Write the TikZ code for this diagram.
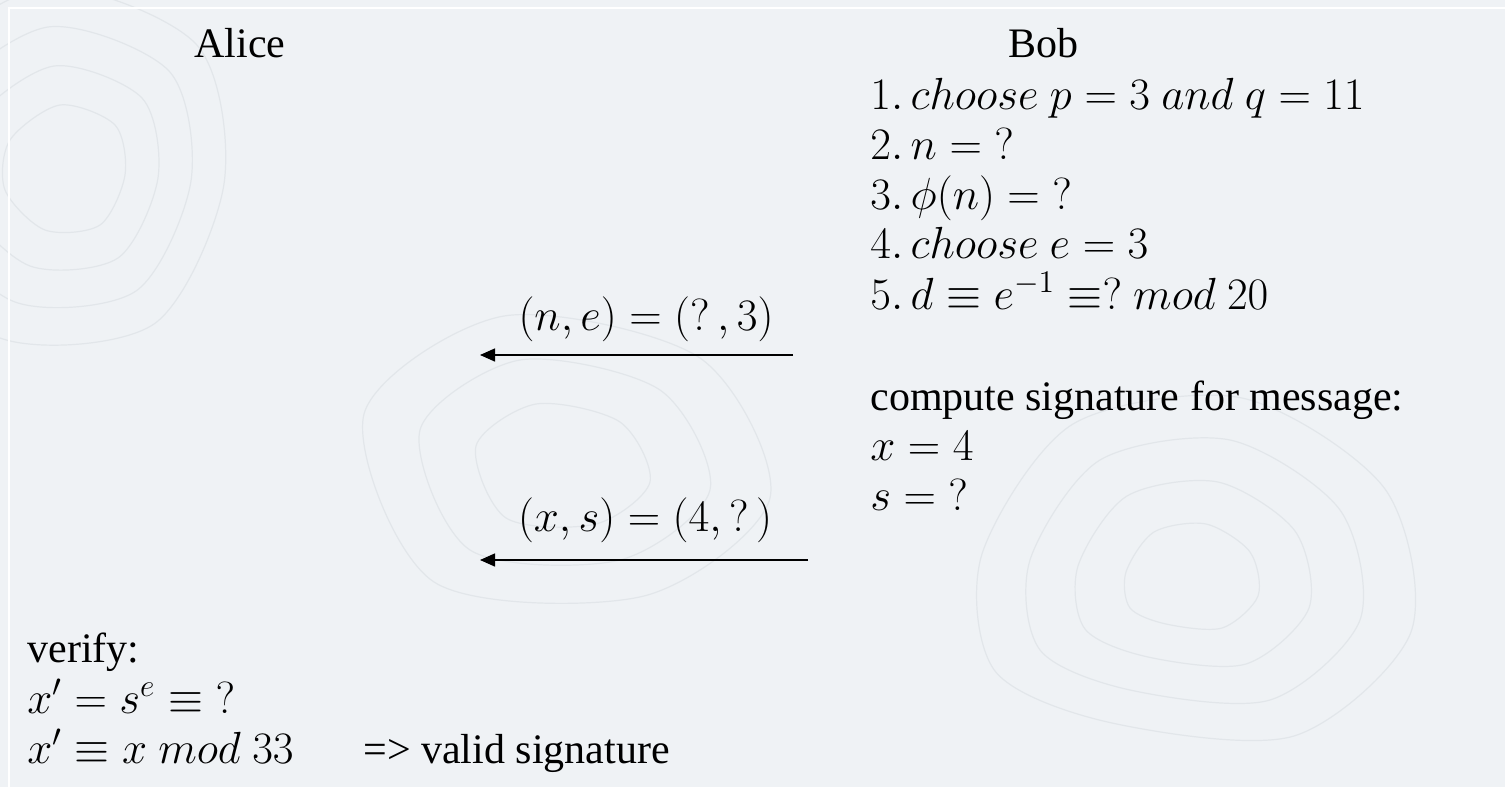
\RequirePackage{fix-cm}
\documentclass[tikz,border=0pt]{standalone}
\usepackage{fontspec}
\setmainfont{Liberation Serif}
\usetikzlibrary{arrows.meta}
\definecolor{slidebg}{RGB}{239,242,245}
\definecolor{contour}{RGB}{226,230,234}

\begin{document}
\begin{tikzpicture}[
      x=0.5pt,y=-0.5pt,
      line/.style={anchor=base west,inner sep=0pt,font=\fontsize{21}{25}\selectfont},
      mline/.style={anchor=base west,inner sep=0pt,font=\fontsize{22.5}{27}\selectfont},
      party/.style={anchor=base,inner sep=0pt,font=\fontsize{21}{25}\selectfont},
      msgtext/.style={anchor=base,inner sep=0pt,font=\fontsize{22.5}{27}\selectfont},
      msg/.style={-{Triangle[length=7.5pt,width=6.5pt]},line width=0.75pt,draw=black}
    ]
    % slide background
    \fill[slidebg] (0,0) rectangle (1505,787);
    \useasboundingbox (0,0) rectangle (1505,787);
    \foreach \s in {0.4,0.7,1.0,1.3}
      \draw[contour,line width=0.6pt,shift={(1190,580)},scale=\s]
        plot[smooth cycle] coordinates {(-160,-20) (-90,-120) (40,-140) (150,-70) (170,40) (80,120) (-60,110) (-150,70)};
    \foreach \s in {0.5,0.8,1.1,1.4}
      \draw[contour,line width=0.6pt,shift={(70,170)},scale=\s]
        plot[smooth cycle] coordinates {(-120,-60) (-20,-130) (90,-90) (110,10) (60,110) (-50,120) (-130,40)};
    \foreach \s in {0.6,1.0,1.4}
      \draw[contour,line width=0.6pt,shift={(560,470)},scale=\s]
        plot[smooth cycle] coordinates {(-140,-40) (-40,-110) (100,-80) (150,20) (60,90) (-90,80)};
    \draw[white,line width=0.8pt] (9,8) rectangle (1512,794);

    % parties
    \node[party] (alice) at (240,57) {Alice};
    \node[party] (bob) at (1043,57) {Bob};

    % Bob's key generation
    \node[mline] (s1) at (870,109) {$1.\,choose\ p=3\ and\ q=11$};
    \node[mline] (s2) at (870,159) {$2.\,n={?}$};
    \node[mline] (s3) at (870,209) {$3.\,\phi(n)={?}$};
    \node[mline] (s4) at (870,258) {$4.\,choose\ e=3$};
    \node[mline] (s5) at (870,309) {$5.\,d\equiv e^{-1}\equiv?\ mod\ 20$};

    % Bob signs
    \node[line] (comp) at (870,410) {compute signature for message:};
    \node[mline] (xval) at (870,460) {$x=4$};
    \node[mline] (sval) at (870,510) {$s={?}$};

    % messages to Alice
    \coordinate (pkfrom) at (793,355);
    \coordinate (pkto) at (480,355);
    \coordinate (sigfrom) at (808,560);
    \coordinate (sigto) at (480,560);
    \node[msgtext] (pk) at (646,330) {$(n,e)=(?\,,3)$};
    \node[msgtext] (sig) at (645,531) {$(x,s)=(4,?\,)$};
    \draw[msg] (pkfrom) -- (pkto);
    \draw[msg] (sigfrom) -- (sigto);

    % Alice verifies
    \node[line] (ver) at (27,662) {verify:};
    \node[mline] (v1) at (27,713) {$x'=s^e\equiv{?}$};
    \node[mline] (v2) at (27,763) {$x'\equiv x\ mod\ 33$};
    \node[line] (valid) at (363,763) {=> valid signature};
  \end{tikzpicture}
\end{document}
